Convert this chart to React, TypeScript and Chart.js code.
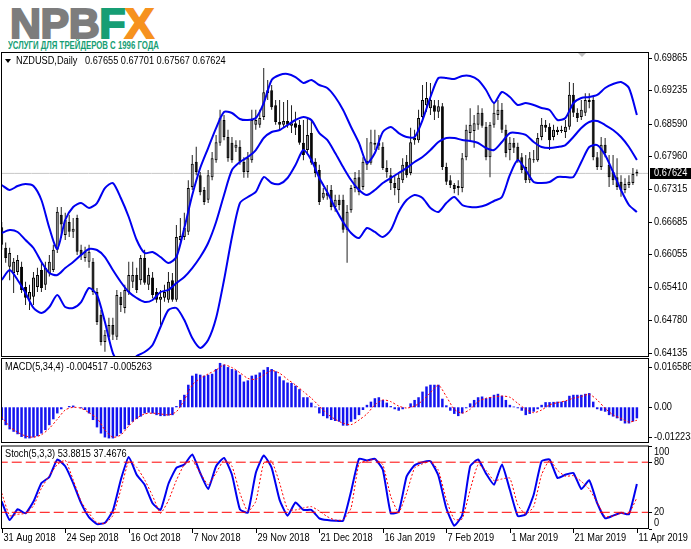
import React, { useEffect, useRef } from "react"
import { Chart, registerables } from "chart.js"

Chart.register(...registerables)

// date labels every 16 bars
const dateLabels = [
  "31 Aug 2018", "24 Sep 2018", "16 Oct 2018", "7 Nov 2018", "29 Nov 2018", "21 Dec 2018",
  "16 Jan 2019", "7 Feb 2019", "1 Mar 2019", "21 Mar 2019", "11 Apr 2019",
]

// NZDUSD daily OHLC
const opens = [
  0.6658, 0.6618, 0.6581, 0.6569, 0.6571, 0.6581, 0.6542, 0.6517, 0.6523, 0.6542,
  0.6575, 0.6546, 0.6569, 0.6575, 0.6614, 0.6682, 0.6643, 0.6668, 0.6649, 0.6676,
  0.6614, 0.6598, 0.6591, 0.6591, 0.6532, 0.6488, 0.6435, 0.6445, 0.6468, 0.6445,
  0.6523, 0.6501, 0.6532, 0.6552, 0.6565, 0.6555, 0.6598, 0.6546, 0.656, 0.6532,
  0.6517, 0.6521, 0.6517, 0.6555, 0.6517, 0.6633, 0.6639, 0.6649, 0.6736, 0.6785,
  0.6759, 0.673, 0.6711, 0.6755, 0.6788, 0.6822, 0.6866, 0.6833, 0.6822, 0.6812,
  0.6814, 0.6785, 0.6765, 0.6788, 0.6857, 0.6857, 0.6872, 0.6918, 0.6924, 0.6895,
  0.6862, 0.6857, 0.6864, 0.6855, 0.686, 0.6857, 0.6822, 0.6808, 0.6841, 0.6785,
  0.6769, 0.6715, 0.6725, 0.673, 0.6697, 0.6711, 0.6711, 0.6653, 0.6691, 0.6734,
  0.6755, 0.6736, 0.6779, 0.6783, 0.6818, 0.6822, 0.6814, 0.6773, 0.6759, 0.6744,
  0.673, 0.6749, 0.6785, 0.6763, 0.6827, 0.6827, 0.6872, 0.6895, 0.6889, 0.6895,
  0.6882, 0.6893, 0.6775, 0.6749, 0.674, 0.6734, 0.6734, 0.6794, 0.6841, 0.6845,
  0.6857, 0.688, 0.6853, 0.6794, 0.6857, 0.6876, 0.6886, 0.6847, 0.6808, 0.6822,
  0.6814, 0.6794, 0.6775, 0.6749, 0.6788, 0.6788, 0.6833, 0.6857, 0.6853, 0.6833,
  0.6843, 0.6845, 0.6843, 0.6853, 0.6915, 0.688, 0.6872, 0.688, 0.6901, 0.6905,
  0.6794, 0.6775, 0.6818, 0.6779, 0.6765, 0.6755, 0.6746, 0.673, 0.674, 0.6744,
  0.67655,
]
const highs = [
  0.6668, 0.6628, 0.6618, 0.6598, 0.6604, 0.6591, 0.6552, 0.6546, 0.6571, 0.6579,
  0.6591, 0.6591, 0.6604, 0.6624, 0.6697, 0.6697, 0.6686, 0.6682, 0.6676, 0.6682,
  0.6624, 0.662, 0.6624, 0.6598, 0.654, 0.6497, 0.6458, 0.6482, 0.6482, 0.6536,
  0.6532, 0.6546, 0.6591, 0.6591, 0.6579, 0.6604, 0.6614, 0.6579, 0.6571, 0.654,
  0.6536, 0.6546, 0.6571, 0.6569, 0.6662, 0.6676, 0.6686, 0.6749, 0.6798, 0.6814,
  0.6765, 0.6736, 0.6769, 0.6804, 0.6837, 0.6886, 0.6876, 0.6847, 0.6833, 0.6827,
  0.6827, 0.6794, 0.6804, 0.6886, 0.6886, 0.6886, 0.6967, 0.6944, 0.6934, 0.6905,
  0.6905, 0.6901, 0.6905, 0.6895, 0.6882, 0.6866, 0.6866, 0.687, 0.6866, 0.6792,
  0.6779, 0.6734, 0.674, 0.674, 0.6721, 0.6721, 0.6721, 0.6701, 0.674, 0.6765,
  0.6769, 0.6794, 0.6831, 0.6847, 0.6847, 0.6837, 0.6823, 0.6788, 0.6773, 0.6759,
  0.6765, 0.6792, 0.6798, 0.6851, 0.6847, 0.6886, 0.6934, 0.694, 0.6938, 0.6905,
  0.6905, 0.6899, 0.6783, 0.6759, 0.6744, 0.6749, 0.6802, 0.6857, 0.6889, 0.6876,
  0.6895, 0.6889, 0.6862, 0.6862, 0.6899, 0.6905, 0.6899, 0.6857, 0.6833, 0.6831,
  0.6822, 0.6802, 0.6798, 0.6804, 0.6808, 0.6841, 0.687, 0.6866, 0.686, 0.6857,
  0.6853, 0.6855, 0.6866, 0.694, 0.6938, 0.6889, 0.6905, 0.6918, 0.6918, 0.6911,
  0.6804, 0.6833, 0.6831, 0.6798, 0.6798, 0.6792, 0.6759, 0.6753, 0.6759, 0.6773,
  0.67701,
]
const lows = [
  0.6614, 0.6589, 0.6555, 0.653, 0.6565, 0.653, 0.6507, 0.6497, 0.6507, 0.6532,
  0.6532, 0.6536, 0.6562, 0.6571, 0.6608, 0.6637, 0.6633, 0.6639, 0.6637, 0.6604,
  0.6594, 0.6591, 0.6579, 0.6526, 0.6468, 0.6428, 0.6416, 0.6439, 0.6439, 0.6439,
  0.6493, 0.6491, 0.6526, 0.654, 0.653, 0.6546, 0.6546, 0.6536, 0.652, 0.6511,
  0.6468, 0.6513, 0.6511, 0.6513, 0.6513, 0.6624, 0.6633, 0.6643, 0.673, 0.6759,
  0.672, 0.6701, 0.6705, 0.6749, 0.6783, 0.6816, 0.6827, 0.6785, 0.6783, 0.6804,
  0.6779, 0.6754, 0.6754, 0.6783, 0.6847, 0.6851, 0.6866, 0.6905, 0.6886, 0.6857,
  0.6847, 0.6851, 0.6851, 0.6841, 0.6837, 0.6818, 0.6788, 0.6802, 0.6779, 0.6755,
  0.6701, 0.6711, 0.6711, 0.6691, 0.6688, 0.6691, 0.6647, 0.6589, 0.6686, 0.6726,
  0.672, 0.673, 0.6769, 0.6779, 0.6808, 0.6808, 0.6769, 0.6754, 0.673, 0.672,
  0.6705, 0.6744, 0.6754, 0.6759, 0.6818, 0.6822, 0.6866, 0.6882, 0.6876, 0.6866,
  0.687, 0.6769, 0.674, 0.6734, 0.6724, 0.672, 0.6726, 0.6788, 0.6827, 0.6812,
  0.6847, 0.6851, 0.6788, 0.6755, 0.6851, 0.6866, 0.6841, 0.6794, 0.6788, 0.6802,
  0.6783, 0.6763, 0.6744, 0.6744, 0.6783, 0.6785, 0.6827, 0.6843, 0.6808, 0.6827,
  0.6837, 0.6841, 0.6831, 0.6847, 0.6872, 0.6862, 0.6866, 0.6874, 0.6889, 0.6788,
  0.6769, 0.6769, 0.6794, 0.6736, 0.674, 0.673, 0.6717, 0.6724, 0.6734, 0.674,
  0.67567,
]
const closes = [
  0.6624, 0.6598, 0.6608, 0.6591, 0.6594, 0.6536, 0.6521, 0.6532, 0.656, 0.6565,
  0.654, 0.6579, 0.6591, 0.6614, 0.6688, 0.6663, 0.6672, 0.6649, 0.6655, 0.661,
  0.6604, 0.661, 0.661, 0.6532, 0.6474, 0.6435, 0.6449, 0.6468, 0.6449, 0.6526,
  0.6507, 0.6536, 0.6565, 0.6565, 0.6536, 0.6598, 0.655, 0.6565, 0.6526, 0.6517,
  0.6523, 0.6532, 0.6552, 0.6517, 0.6639, 0.6641, 0.6657, 0.6734, 0.6781, 0.6765,
  0.6726, 0.6707, 0.6759, 0.6792, 0.6823, 0.687, 0.6833, 0.6792, 0.6788, 0.6818,
  0.6785, 0.6765, 0.6792, 0.6866, 0.6866, 0.687, 0.692, 0.6924, 0.6891, 0.6862,
  0.6857, 0.6864, 0.6857, 0.686, 0.6851, 0.6822, 0.6798, 0.6837, 0.6783, 0.6763,
  0.6707, 0.6725, 0.6719, 0.6697, 0.6711, 0.6701, 0.6653, 0.6688, 0.6734, 0.6754,
  0.6726, 0.6785, 0.6787, 0.6823, 0.6822, 0.6816, 0.6773, 0.6765, 0.6744, 0.6734,
  0.6754, 0.6779, 0.6759, 0.6823, 0.6831, 0.687, 0.6905, 0.6909, 0.6905, 0.6882,
  0.6893, 0.6775, 0.6746, 0.674, 0.6732, 0.6738, 0.6792, 0.6847, 0.6857, 0.686,
  0.688, 0.6855, 0.6794, 0.6857, 0.688, 0.6886, 0.6847, 0.6802, 0.6822, 0.6812,
  0.6788, 0.6769, 0.6749, 0.6792, 0.679, 0.6831, 0.6857, 0.6851, 0.6827, 0.6847,
  0.6847, 0.6847, 0.6853, 0.6915, 0.688, 0.687, 0.6886, 0.6905, 0.6905, 0.6794,
  0.6775, 0.6818, 0.6802, 0.6755, 0.6749, 0.6736, 0.673, 0.6742, 0.6746, 0.6761,
  0.67624,
]

// Bollinger bands, read every second bar
const bbUpper = [
  0.67399, 0.67301, 0.67379, 0.67418, 0.67379, 0.67107, 0.66563, 0.66156, 0.66719, 0.66971,
  0.67049, 0.66952, 0.67049, 0.6734, 0.67437, 0.67146, 0.66777, 0.6633, 0.66077, 0.66097,
  0.66, 0.65883, 0.66, 0.66563, 0.67204, 0.67729, 0.68117, 0.68505, 0.68817, 0.68797,
  0.68681, 0.68661, 0.687, 0.68991, 0.69438, 0.69535, 0.69555, 0.69496, 0.6938, 0.69438,
  0.69341, 0.69283, 0.69108, 0.68855, 0.68525, 0.68214, 0.67826, 0.6802, 0.68428, 0.68525,
  0.68408, 0.68331, 0.68331, 0.68661, 0.69108, 0.69477, 0.69477, 0.69457, 0.69516, 0.69516,
  0.69438, 0.69244, 0.68991, 0.69205, 0.69108, 0.68953, 0.68991, 0.68953, 0.68894, 0.68855,
  0.68661, 0.687, 0.68991, 0.69088, 0.69108, 0.69147, 0.69283, 0.6936, 0.69399, 0.69283,
  0.68758,
]
const bbMiddle = [
  0.66466, 0.66524, 0.66486, 0.6633, 0.66175, 0.65903, 0.65689, 0.6565, 0.65786, 0.65903,
  0.66039, 0.66155, 0.66136, 0.66, 0.65747, 0.65515, 0.6532, 0.65204, 0.65126, 0.65165,
  0.6532, 0.65362, 0.65495, 0.65612, 0.65786, 0.66, 0.66272, 0.6668, 0.67205, 0.6769,
  0.67845, 0.67942, 0.68078, 0.68311, 0.68428, 0.68467, 0.68564, 0.68661, 0.6872, 0.68661,
  0.68408, 0.68273, 0.6802, 0.67748, 0.67495, 0.67301, 0.67205, 0.67301, 0.67437, 0.67535,
  0.67632, 0.67729, 0.67845, 0.67942, 0.68078, 0.68234, 0.68311, 0.68311, 0.68273, 0.68253,
  0.68214, 0.68117, 0.68078, 0.68234, 0.68408, 0.68408, 0.6837, 0.68234, 0.68137, 0.68117,
  0.68137, 0.68175, 0.68331, 0.68505, 0.68622, 0.68642, 0.68564, 0.68467, 0.68331, 0.68137,
  0.67884,
]
const bbLower = [
  0.65554, 0.65747, 0.65554, 0.65301, 0.6501, 0.64913, 0.65029, 0.65262, 0.65029, 0.6501,
  0.65126, 0.65398, 0.65262, 0.64737, 0.64135, 0.63902, 0.63902, 0.64077, 0.64155, 0.64291,
  0.6464, 0.64971, 0.6501, 0.64776, 0.64427, 0.64233, 0.64388, 0.64815, 0.65554, 0.66389,
  0.67049, 0.67166, 0.67263, 0.67554, 0.67437, 0.67418, 0.67535, 0.67787, 0.68078, 0.67884,
  0.67535, 0.67263, 0.66952, 0.6668, 0.66466, 0.66369, 0.66563, 0.66486, 0.66389, 0.66524,
  0.66874, 0.67107, 0.67205, 0.67146, 0.66952, 0.66874, 0.67049, 0.67166, 0.6701, 0.66971,
  0.66971, 0.6701, 0.67088, 0.67166, 0.67593, 0.67884, 0.6769, 0.67456, 0.67437, 0.67456,
  0.67554, 0.67554, 0.67554, 0.67845, 0.68137, 0.68175, 0.67981, 0.67651, 0.67301, 0.6701,
  0.66874,
]

// MACD(5,34,4) histogram, every bar
const macdHist = [
  -0.0052, -0.0073, -0.009, -0.01, -0.011, -0.0121, -0.0127, -0.0127, -0.0123, -0.0118,
  -0.0107, -0.0093, -0.0073, -0.0049, -0.0025, -0.0008, 0.0, 0.0005, 0.0007, 0.0,
  -0.0004, -0.0011, -0.0025, -0.0052, -0.0082, -0.0107, -0.0123, -0.0127, -0.0127, -0.0118,
  -0.0107, -0.009, -0.0073, -0.0059, -0.0048, -0.0038, -0.0025, -0.0022, -0.0025, -0.0032,
  -0.0036, -0.0036, -0.0034, -0.0032, 0.0005, 0.003, 0.0051, 0.0092, 0.0129, 0.0137,
  0.0133, 0.0129, 0.0133, 0.0137, 0.0156, 0.0181, 0.0174, 0.0164, 0.0156, 0.0151,
  0.0133, 0.0105, 0.011, 0.0129, 0.0133, 0.0142, 0.0153, 0.0164, 0.0156, 0.0147,
  0.0126, 0.011, 0.0101, 0.0099, 0.0088, 0.0074, 0.0041, 0.0041, 0.0019, 0.0003,
  -0.0025, -0.0036, -0.0045, -0.0052, -0.0056, -0.0059, -0.0075, -0.0075, -0.0059, -0.0049,
  -0.0032, -0.0011, 0.001, 0.0023, 0.0037, 0.0041, 0.003, 0.0019, 0.0005, -0.0008,
  -0.0014, -0.0008, 0.0, 0.0016, 0.003, 0.0041, 0.0064, 0.0085, 0.0092, 0.0092,
  0.0092, 0.0035, 0.0008, -0.0014, -0.0027, -0.0036, -0.0025, -0.0004, 0.0016, 0.003,
  0.0041, 0.0044, 0.0037, 0.0041, 0.0051, 0.0055, 0.0047, 0.003, 0.001, 0.0003,
  -0.0004, -0.0014, -0.0032, -0.0027, -0.0018, -0.0008, 0.001, 0.0021, 0.0021, 0.0022,
  0.0023, 0.0023, 0.0026, 0.0047, 0.0051, 0.0051, 0.0051, 0.0055, 0.0058, 0.0023,
  -0.0008, -0.0014, -0.0018, -0.0032, -0.0038, -0.0045, -0.0055, -0.0066, -0.0066, -0.0058,
  -0.0045,
]
// MACD signal, every second bar
const macdSignal = [
  -0.0038, -0.0079, -0.0102, -0.0117, -0.0122, -0.0112, -0.0086, -0.0049, -0.0011, 0.0,
  -0.0004, -0.0022, -0.0045, -0.0092, -0.0122, -0.0113, -0.0076, -0.0045, -0.0027, -0.0024,
  -0.0027, -0.0031, -0.0018, 0.003, 0.0091, 0.0118, 0.0136, 0.0152, 0.0173, 0.0162,
  0.0141, 0.0118, 0.0114, 0.0132, 0.015, 0.0139, 0.0114, 0.0091, 0.0064, 0.0037,
  0.0005, -0.0027, -0.0049, -0.0065, -0.0071, -0.0052, -0.0027, 0.001, 0.003, 0.0023,
  0.0005, -0.0003, 0.0005, 0.0027, 0.006, 0.009, 0.0044, -0.0008, -0.0024, -0.0008,
  0.0023, 0.0037, 0.0042, 0.0046, 0.0041, 0.0016, -0.0008, -0.0022, -0.0011, 0.001,
  0.0019, 0.0026, 0.0037, 0.0044, 0.0053, 0.003, -0.0004, -0.0031, -0.0045, -0.006,
  -0.0053,
]

// Stochastic(5,3,3), every second bar
const stochMain = [
  33, 10.7, 23.6, 18.8, 32.9, 55, 62.3, 83.2, 75.2, 55,
  30.9, 14, 5.9, 7.5, 22, 59, 86.4, 65, 53, 30.9,
  22.8, 54.2, 73.2, 77.2, 89.3, 67.1, 47.8, 75.2, 85.2, 65,
  23.6, 19.6, 67.1, 88, 73.2, 34.9, 16, 31.7, 22.8, 22.8,
  12.8, 10.7, 9.9, 10, 45, 84, 82, 84, 71, 18.8,
  20.8, 63, 76.4, 80, 81.2, 63.9, 24.8, 3.9, 16.8, 75.2,
  83.2, 66.3, 53, 77.2, 47, 15.6, 17.6, 41, 81.2, 83.2,
  61.1, 65, 67.1, 47.8, 58.3, 30.9, 12.8, 16, 19.6, 17.6,
  53.88,
]
const stochSignal = [
  43, 16, 17.6, 18.8, 27.7, 49, 63.9, 77.2, 82.4, 59,
  32.9, 18.8, 7.5, 6.7, 16, 47, 81.2, 74, 59, 39.7,
  18.8, 34.1, 58.3, 77.2, 82, 67.1, 53, 67.1, 82.4, 75.2,
  43, 20.8, 32.9, 79.2, 81.2, 55, 23.6, 22.8, 25.2, 26.8,
  21.6, 14.8, 10.7, 11, 25, 78.4, 81.6, 83.2, 77.2, 39,
  19.6, 43, 73.2, 78, 80.8, 70.3, 34.9, 11.5, 12, 47,
  77.2, 70.3, 57.9, 59.9, 61, 28.9, 17.6, 26.8, 65.1, 82.4,
  70.3, 63.1, 63.9, 57, 47.8, 31.7, 14.8, 15.6, 18.8, 18.8,
  37.47,
]

const lastPrice = 0.67624
const priceTicks = [0.69865, 0.69235, 0.6859, 0.6796, 0.67315, 0.66685, 0.66055, 0.6541, 0.6478, 0.64135]
const macdTicks = [0.016586, 0, -0.012233]
const macdTickText = ["0.016586", "0.00", "-0.012233"]
const stochTicks = [100, 80, 20, 0]
const stochLevels = [80, 20]

const W = 691
const X_MIN = -0.18
const X_MAX = 163.05
const FONT = '10px "Liberation Sans", Arial, sans-serif'
const TEXT_SQUEEZE = 0.92
const BLUE = "#0000f0"
const RED = "#ff0000"

const lineSet = (data: { x: number; y: number }[], color: string, width: number, dash: number[] = [], tension = 0.25) => ({
  type: "line" as const,
  data,
  borderColor: color,
  borderWidth: width,
  borderDash: dash,
  pointRadius: 0,
  fill: false,
  tension,
})

const everyOther = (arr: number[]) => arr.map((y, k) => ({ x: k * 2, y }))

const baseOptions = (yMin: number, yMax: number, padding: any) => ({
  animation: false as const,
  responsive: false,
  maintainAspectRatio: false,
  layout: { padding },
  scales: {
    x: { type: "linear" as const, min: X_MIN, max: X_MAX, display: false, offset: false },
    y: { min: yMin, max: yMax, display: false },
  },
  plugins: { legend: { display: false }, tooltip: { enabled: false } },
})

// MT4 text is narrower than Arial, squeeze it a little
function text(ctx: CanvasRenderingContext2D, s: string, x: number, y: number) {
  ctx.save()
  ctx.translate(x, y)
  ctx.scale(TEXT_SQUEEZE, 1)
  ctx.fillText(s, 0, 0)
  ctx.restore()
}

function frame(ctx: CanvasRenderingContext2D, a: any) {
  ctx.strokeStyle = "#000"
  ctx.lineWidth = 1
  ctx.strokeRect(a.left + 0.5, a.top + 0.5, a.width - 1, a.height - 1)
}

function axisLabel(ctx: CanvasRenderingContext2D, a: any, py: number, s: string, shift = 0) {
  const y = Math.round(py) + 0.5
  ctx.beginPath()
  ctx.moveTo(a.right, y)
  ctx.lineTo(a.right + 3, y)
  ctx.stroke()
  text(ctx, s, a.right + 5, y + shift)
}

export default function App() {
  const mainRef = useRef<HTMLCanvasElement>(null)
  const macdRef = useRef<HTMLCanvasElement>(null)
  const stochRef = useRef<HTMLCanvasElement>(null)

  useEffect(() => {
    document.body.style.margin = "0"
    if (!mainRef.current || !macdRef.current || !stochRef.current) return

    const wicks = lows.map((l, i) => ({ x: i, y: [l, highs[i]] }))
    const bodies = opens.map((o, i) => ({ x: i, y: [o, closes[i]] }))
    const bodyColors = opens.map((o, i) => (closes[i] >= o ? "#9a9a9a" : "#000"))

    const mainDecor = {
      id: "mainDecor",
      afterDraw(chart: any) {
        const { ctx, chartArea: a, scales } = chart
        ctx.save()
        frame(ctx, a)
        ctx.font = FONT
        ctx.textBaseline = "middle"
        ctx.fillStyle = "#000"
        priceTicks.forEach((v) => axisLabel(ctx, a, scales.y.getPixelForValue(v), v.toFixed(5)))
        const cy = scales.y.getPixelForValue(lastPrice)
        ctx.fillRect(a.right + 1, Math.round(cy) - 5, 42, 11)
        ctx.fillStyle = "#fff"
        text(ctx, lastPrice.toFixed(5), a.right + 5, Math.round(cy) + 0.5)
        // legend
        ctx.fillStyle = "#000"
        ctx.beginPath()
        ctx.moveTo(a.left + 4, a.top + 7)
        ctx.lineTo(a.left + 10, a.top + 7)
        ctx.lineTo(a.left + 7, a.top + 11)
        ctx.closePath()
        ctx.fill()
        text(ctx, "NZDUSD,Daily", a.left + 15, a.top + 9)
        text(ctx, "0.67655 0.67701 0.67567 0.67624", a.left + 84, a.top + 9)
        // chart shift marker
        ctx.fillStyle = "#c0c0c0"
        ctx.beginPath()
        ctx.moveTo(a.right - 71, a.top + 1)
        ctx.lineTo(a.right - 63, a.top + 1)
        ctx.lineTo(a.right - 67, a.top + 5)
        ctx.closePath()
        ctx.fill()
        ctx.restore()
      },
    }

    const macdDecor = {
      id: "macdDecor",
      afterDraw(chart: any) {
        const { ctx, chartArea: a, scales } = chart
        ctx.save()
        frame(ctx, a)
        ctx.font = FONT
        ctx.textBaseline = "middle"
        ctx.fillStyle = "#000"
        macdTicks.forEach((v, k) => axisLabel(ctx, a, scales.y.getPixelForValue(v), macdTickText[k]))
        text(ctx, "MACD(5,34,4) -0.004517 -0.005263", a.left + 4, a.top + 9)
        ctx.restore()
      },
    }

    const stochDecor = {
      id: "stochDecor",
      afterDraw(chart: any) {
        const { ctx, chartArea: a, scales } = chart
        ctx.save()
        frame(ctx, a)
        ctx.font = FONT
        ctx.textBaseline = "middle"
        ctx.fillStyle = "#000"
        stochTicks.forEach((v) => {
          const shift = v === 100 ? 6 : v === 0 ? -6 : 0
          axisLabel(ctx, a, scales.y.getPixelForValue(v), String(v), shift)
        })
        text(ctx, "Stoch(5,3,3) 53.8815 37.4676", a.left + 4, a.top + 9)
        dateLabels.forEach((label, k) => {
          const x = Math.round(scales.x.getPixelForValue(k * 16)) + 0.5
          ctx.beginPath()
          ctx.moveTo(x, a.bottom)
          ctx.lineTo(x, a.bottom + 4)
          ctx.stroke()
          text(ctx, label, x + 1, a.bottom + 9)
        })
        ctx.restore()
      },
    }

    const mainChart = new Chart(mainRef.current, {
      type: "bar",
      data: {
        datasets: [
          { ...lineSet([{ x: -1, y: lastPrice }, { x: 170, y: lastPrice }], "#c8c8c8", 1), order: 4 },
          {
            type: "bar",
            data: wicks,
            backgroundColor: "#202020",
            barThickness: 1,
            grouped: false,
            borderSkipped: false,
            inflateAmount: 0,
            order: 3,
          },
          {
            type: "bar",
            data: bodies,
            backgroundColor: bodyColors,
            borderColor: "#000",
            borderWidth: 1,
            barThickness: 3,
            minBarLength: 1,
            grouped: false,
            borderSkipped: false,
            inflateAmount: 0,
            order: 2,
          },
          { ...lineSet(everyOther(bbUpper), BLUE, 2), order: 1 },
          { ...lineSet(everyOther(bbMiddle), BLUE, 2), order: 1 },
          { ...lineSet(everyOther(bbLower), BLUE, 2), order: 1 },
        ],
      } as any,
      options: baseOptions(0.64058, 0.69982, { left: 1, right: 42, top: 1, bottom: 1 }) as any,
      plugins: [mainDecor],
    })

    const macdChart = new Chart(macdRef.current, {
      type: "bar",
      data: {
        datasets: [
          {
            type: "bar",
            data: macdHist.map((y, i) => ({ x: i, y })),
            backgroundColor: "#1414f0",
            barThickness: 2.5,
            grouped: false,
            inflateAmount: 0,
            order: 2,
          },
          { ...lineSet(everyOther(macdSignal), RED, 1, [2, 2]), order: 1 },
        ],
      } as any,
      options: baseOptions(-0.01457, 0.02011, { left: 1, right: 42, top: 1, bottom: 1 }) as any,
      plugins: [macdDecor],
    })

    const levelSets = stochLevels.map((lv) =>
      lineSet([{ x: -1, y: lv }, { x: 170, y: lv }], RED, 1, [10, 4], 0)
    )
    const stochChart = new Chart(stochRef.current, {
      type: "line",
      data: {
        datasets: [
          ...levelSets,
          lineSet(everyOther(stochSignal), RED, 1, [2, 2], 0.15),
          lineSet(everyOther(stochMain), BLUE, 2, [], 0.15),
        ],
      } as any,
      options: baseOptions(0, 100, { left: 1, right: 42, top: 1.5, bottom: 20 }) as any,
      plugins: [stochDecor],
    })

    return () => {
      mainChart.destroy()
      macdChart.destroy()
      stochChart.destroy()
    }
  }, [])

  const logoFont = '"Liberation Sans", Arial, sans-serif'

  return (
    <div style={{ position: "absolute", left: 0, top: 0, width: W, height: 549, background: "#fff", overflow: "hidden" }}>
      <div
        style={{
          position: "absolute",
          left: 10,
          top: -1,
          fontFamily: logoFont,
          fontWeight: 700,
          fontSize: 43,
          lineHeight: "48px",
          letterSpacing: -0.5,
          whiteSpace: "nowrap",
        }}
      >
        <span style={{ color: "#7d7d7d", WebkitTextStroke: "2px #7d7d7d" }}>NPB</span>
        <span style={{ color: "#169e74", WebkitTextStroke: "2px #169e74" }}>F</span>
        <span style={{ color: "#f6921e", WebkitTextStroke: "2px #f6921e" }}>X</span>
      </div>
      <div
        style={{
          position: "absolute",
          left: 8,
          top: 40,
          fontFamily: logoFont,
          fontWeight: 700,
          fontSize: 10,
          lineHeight: "12px",
          color: "#169e74",
          whiteSpace: "nowrap",
          transform: "scaleX(0.78)",
          transformOrigin: "0 0",
        }}
      >
        УСЛУГИ ДЛЯ ТРЕЙДЕРОВ С 1996 ГОДА
      </div>
      <canvas ref={mainRef} width={W} height={307} style={{ position: "absolute", left: 0, top: 51, width: W, height: 307 }} />
      <canvas ref={macdRef} width={W} height={87} style={{ position: "absolute", left: 0, top: 357, width: W, height: 87 }} />
      <canvas ref={stochRef} width={W} height={105} style={{ position: "absolute", left: 0, top: 444, width: W, height: 105 }} />
    </div>
  )
}
